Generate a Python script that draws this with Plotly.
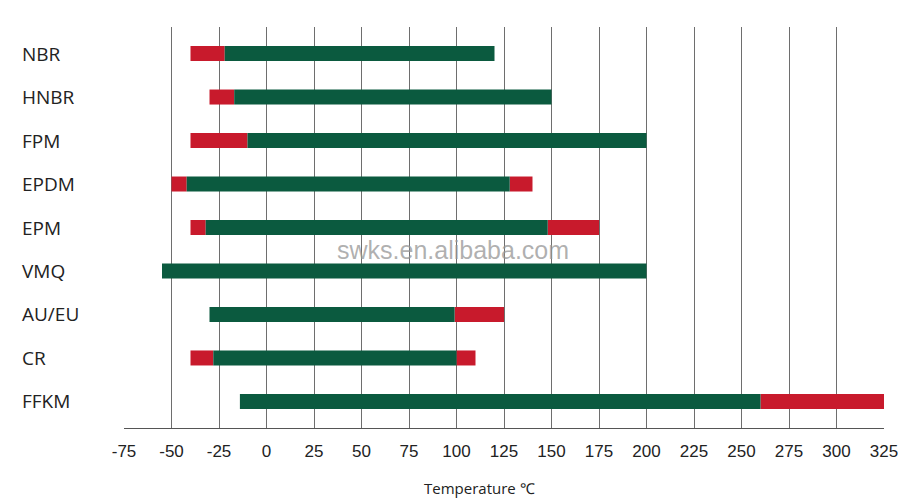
import plotly.graph_objects as go

materials = ["NBR", "HNBR", "FPM", "EPDM", "EPM", "VMQ", "AU/EU", "CR", "FFKM"]
# temperature limits (°C); red = short-term extension, green = continuous range
red_low    = [-40, -30, -40, -50, -40, -55, -30, -40, -14]
green_low  = [-22, -17, -10, -42, -32, -55, -30, -28, -14]
green_high = [120, 150, 200, 128, 148, 200,  99, 100, 260]
red_high   = [120, 150, 200, 140, 175, 200, 125, 110, 325]
ticks = list(range(-75, 326, 25))

GREEN = "#0b5a3f"
RED = "#c81a2c"

fig = go.Figure()
w = 0.345
fig.add_trace(go.Bar(y=materials, base=red_low,
                     x=[g - r for g, r in zip(green_low, red_low)],
                     orientation="h", marker=dict(color=RED, line=dict(width=0)),
                     width=w, showlegend=False, hoverinfo="skip"))
fig.add_trace(go.Bar(y=materials, base=green_high,
                     x=[r - g for r, g in zip(red_high, green_high)],
                     orientation="h", marker=dict(color=RED, line=dict(width=0)),
                     width=w, showlegend=False, hoverinfo="skip"))
fig.add_trace(go.Bar(y=materials, base=green_low,
                     x=[h - l for h, l in zip(green_high, green_low)],
                     orientation="h", marker=dict(color=GREEN, line=dict(width=0)),
                     width=w, showlegend=False, hoverinfo="skip"))

annotations = []
for m in materials:
    annotations.append(dict(x=-0.137, xref="paper", y=m, yref="y", text=m,
                            showarrow=False, xanchor="left", yanchor="middle",
                            font=dict(family="Open Sans", size=19, color="#222222")))
annotations.append(dict(x=0.468, xref="paper", y=-0.15, yref="paper",
                        text="Temperature ℃", showarrow=False,
                        xanchor="center", yanchor="middle",
                        font=dict(family="Open Sans", size=15, color="#222222")))
annotations.append(dict(x=0.433, xref="paper", y=0.444, yref="paper",
                        text="swks.en.alibaba.com", showarrow=False,
                        xanchor="center", yanchor="middle",
                        font=dict(family="Liberation Sans", size=25, color="rgba(150,150,150,0.75)")))

fig.update_layout(
    width=898, height=491,
    margin=dict(l=116, r=22, t=19, b=71),
    paper_bgcolor="white", plot_bgcolor="white",
    barmode="overlay",
    annotations=annotations,
    xaxis=dict(range=[-75, 325], tickvals=ticks, ticktext=[str(t) for t in ticks],
               showgrid=True, gridcolor="#6e6e6e", gridwidth=1,
               zeroline=False, showline=True, linecolor="#555555", linewidth=1,
               mirror=False, ticks="", ticklabelstandoff=8, automargin=False,
               tickfont=dict(family="Liberation Sans", size=17, color="#222222"),
               layer="below traces"),
    yaxis=dict(categoryorder="array", categoryarray=materials,
               range=[8.61, -0.61], showticklabels=False, showgrid=False,
               zeroline=False, showline=False, ticks=""),
)

fig.write_html("out.html")
